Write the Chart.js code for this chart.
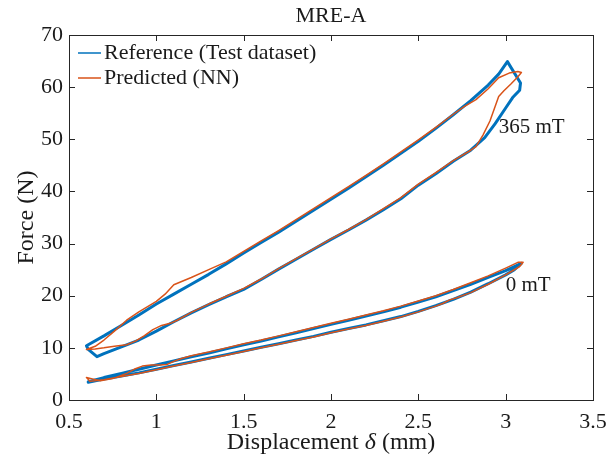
<!DOCTYPE html>
<html>
<head>
<meta charset="utf-8">
<script src="https://cdn.jsdelivr.net/npm/chart.js@4.4.1/dist/chart.umd.min.js"></script>
<style>
html,body{margin:0;padding:0;background:#fff;}
#wrap{width:608px;height:466px;}
</style>
</head>
<body>
<div id="wrap"><canvas id="mre_chart" width="608" height="466"></canvas></div>
<script>
// 365 mT loop, measured
const refHighX = [0.60,0.70,0.80,0.90,1.00,1.10,1.20,1.30,1.40,1.50,1.60,1.70,1.80,1.90,2.00,2.10,2.20,2.30,2.40,2.50,2.60,2.70,2.80,2.90,2.96,3.01,3.085,3.08,3.04,3.00,2.94,2.88,2.80,2.70,2.60,2.50,2.40,2.30,2.20,2.10,2.00,1.90,1.80,1.70,1.60,1.50,1.40,1.30,1.20,1.10,1.00,0.90,0.80,0.70,0.66,0.61,0.60];
const refHighY = [10.4,12.3,14.3,16.3,18.4,20.3,22.2,24.1,26.1,28.2,30.2,32.2,34.3,36.4,38.5,40.6,42.8,45.0,47.3,49.6,52.1,54.7,57.4,60.4,62.5,64.9,60.8,59.4,58.0,56.0,53.0,50.3,47.9,45.8,43.4,41.2,38.6,36.5,34.5,32.6,30.8,28.9,27.0,25.1,23.1,21.2,19.8,18.3,16.7,15.0,13.2,11.5,10.2,8.9,8.3,9.7,10.4];
// 365 mT loop, network output
const predHighX = [0.60,0.65,0.70,0.76,0.83,0.90,1.00,1.05,1.10,1.20,1.30,1.40,1.50,1.60,1.70,1.80,1.90,2.00,2.10,2.20,2.30,2.40,2.50,2.60,2.70,2.76,2.83,2.90,2.96,3.02,3.07,3.09,3.07,3.03,2.99,2.96,2.91,2.87,2.83,2.80,2.70,2.60,2.50,2.40,2.30,2.20,2.10,2.00,1.90,1.80,1.70,1.60,1.50,1.40,1.30,1.20,1.12,1.08,1.03,0.98,0.93,0.88,0.83,0.76,0.70,0.65,0.60];
const predHighY = [9.7,10.3,11.5,13.2,15.3,16.9,18.9,20.3,22.1,23.5,25.0,26.5,28.5,30.5,32.5,34.6,36.7,38.8,40.9,43.1,45.3,47.6,49.9,52.3,54.8,56.2,57.6,59.7,61.8,62.7,63.0,62.8,62.0,60.6,59.3,58.2,53.5,50.8,48.6,47.9,45.9,43.6,41.4,38.8,36.7,34.6,32.7,30.9,29.0,27.1,25.2,23.2,21.4,19.9,18.4,16.8,15.3,14.7,14.3,13.5,12.3,11.3,10.6,10.3,10.0,9.8,9.7];
// 0 mT loop, measured
const refLowX = [0.61,0.70,0.80,0.90,1.00,1.10,1.20,1.30,1.40,1.50,1.60,1.70,1.80,1.90,2.00,2.10,2.20,2.30,2.40,2.50,2.60,2.70,2.80,2.90,3.00,3.09,3.05,3.00,2.90,2.80,2.70,2.60,2.50,2.40,2.30,2.20,2.10,2.00,1.90,1.80,1.70,1.60,1.50,1.40,1.30,1.20,1.10,1.00,0.90,0.80,0.70,0.61];
const refLowY = [3.5,4.3,5.1,5.9,6.7,7.5,8.3,9.0,9.8,10.6,11.3,12.1,12.9,13.7,14.5,15.3,16.1,16.9,17.8,18.8,19.8,21.0,22.2,23.5,24.8,26.2,25.0,24.0,22.3,20.7,19.3,18.1,17.0,16.0,15.2,14.4,13.7,13.0,12.2,11.5,10.8,10.1,9.4,8.7,8.0,7.3,6.6,5.9,5.2,4.6,4.0,3.4];
// 0 mT loop, network output
const predLowX = [0.60,0.64,0.68,0.75,0.83,0.88,0.92,0.97,1.02,1.06,1.10,1.14,1.20,1.30,1.40,1.50,1.60,1.70,1.80,1.90,2.00,2.10,2.20,2.30,2.40,2.50,2.60,2.70,2.80,2.90,3.00,3.07,3.10,3.08,3.00,2.90,2.80,2.72,2.68,2.64,2.60,2.50,2.40,2.30,2.20,2.10,2.00,1.90,1.80,1.70,1.60,1.50,1.40,1.30,1.20,1.10,1.00,0.90,0.80,0.70,0.62,0.60];
const predLowY = [4.3,4.0,3.7,4.1,5.1,6.0,6.5,6.7,6.7,6.8,7.4,7.9,8.5,9.2,10.0,10.8,11.5,12.3,13.1,13.9,14.7,15.5,16.3,17.1,18.0,19.0,20.0,21.2,22.5,23.8,25.3,26.4,26.4,25.6,24.0,22.2,20.6,19.6,19.2,18.5,18.0,16.9,15.9,15.1,14.3,13.6,12.9,12.1,11.4,10.7,10.0,9.3,8.6,7.9,7.2,6.5,5.8,5.1,4.5,3.9,3.6,4.3];

const xTicks = [0.5,1,1.5,2,2.5,3,3.5];
const yTicks = [0,10,20,30,40,50,60,70];
const seriesNames = ['Reference (Test dataset)','Predicted (NN)'];
const loopLabels = [{text:'365 mT',x:2.96,y:52.2},{text:'0 mT',x:3.0,y:21.9}];

const BLUE = '#0072BD', ORANGE = '#D95319', INK = '#1a1a1a', SERIF = "'Liberation Serif', serif";

const toPoints = (xs,ys) => xs.map((v,i)=>({x:v,y:ys[i]}));

const lineSet = (label,xs,ys,color,width,order) => ({
    label: label,
    data: toPoints(xs,ys),
    borderColor: color,
    borderWidth: width,
    pointRadius: 0,
    tension: 0,
    borderJoinStyle: 'round',
    borderCapStyle: 'round',
    fill: false,
    order: order
});

// axes box, inward ticks, titles, legend and loop labels
const decorations = {
    id: 'decorations',
    afterDraw(chart){
        const {ctx, chartArea: a, scales: {x, y}} = chart;
        ctx.save();
        ctx.strokeStyle = '#262626';
        ctx.lineWidth = 1;
        ctx.strokeRect(a.left+0.5, a.top+0.5, a.right-a.left, a.bottom-a.top);
        ctx.beginPath();
        xTicks.forEach(v=>{
            const px = Math.round(x.getPixelForValue(v))+0.5;
            ctx.moveTo(px,a.bottom); ctx.lineTo(px,a.bottom-6);
            ctx.moveTo(px,a.top); ctx.lineTo(px,a.top+6);
        });
        yTicks.forEach(v=>{
            const py = Math.round(y.getPixelForValue(v))+0.5;
            ctx.moveTo(a.left,py); ctx.lineTo(a.left+6,py);
            ctx.moveTo(a.right,py); ctx.lineTo(a.right-6,py);
        });
        ctx.stroke();

        ctx.fillStyle = INK;
        ctx.textBaseline = 'middle';
        ctx.textAlign = 'center';
        const midX = (a.left+a.right)/2;
        ctx.font = `22px ${SERIF}`;
        ctx.fillText('MRE-A', midX, 16);

        // x axis title with italic delta
        const parts = [['Displacement ',`24px ${SERIF}`],['δ',`italic 24px ${SERIF}`],[' (mm)',`24px ${SERIF}`]];
        let total = 0;
        parts.forEach(p=>{ctx.font = p[1]; total += ctx.measureText(p[0]).width;});
        let cx = midX-total/2;
        ctx.textAlign = 'left';
        parts.forEach(p=>{ctx.font = p[1]; ctx.fillText(p[0], cx, 443); cx += ctx.measureText(p[0]).width;});

        ctx.save();
        ctx.translate(27,(a.top+a.bottom)/2);
        ctx.rotate(-Math.PI/2);
        ctx.textAlign = 'center';
        ctx.font = `24px ${SERIF}`;
        ctx.fillText('Force (N)',0,0);
        ctx.restore();

        // legend
        ctx.font = `22px ${SERIF}`;
        ctx.textAlign = 'left';
        [BLUE,ORANGE].forEach((c,i)=>{
            const ly = a.top+18+i*25;
            ctx.strokeStyle = c;
            ctx.lineWidth = 1.5;
            ctx.beginPath();
            ctx.moveTo(a.left+9,ly); ctx.lineTo(a.left+32,ly);
            ctx.stroke();
            ctx.fillText(seriesNames[i], a.left+35, ly);
        });

        ctx.font = `21px ${SERIF}`;
        loopLabels.forEach(l=>{
            ctx.fillText(l.text, x.getPixelForValue(l.x), y.getPixelForValue(l.y));
        });
        ctx.restore();
    }
};

new Chart(document.getElementById('mre_chart'), {
    type: 'line',
    data: {
        datasets: [
            lineSet(seriesNames[0], refHighX, refHighY, BLUE, 3, 2),
            lineSet(seriesNames[0], refLowX, refLowY, BLUE, 3, 2),
            lineSet(seriesNames[1], predHighX, predHighY, ORANGE, 1.5, 1),
            lineSet(seriesNames[1], predLowX, predLowY, ORANGE, 1.5, 1)
        ]
    },
    options: {
        responsive: false,
        animation: false,
        devicePixelRatio: 1,
        layout: {padding: {left: 0, right: 15, top: 35, bottom: 0}},
        plugins: {
            legend: {display: false},
            title: {display: false},
            tooltip: {enabled: false}
        },
        scales: {
            x: {
                type: 'linear',
                min: 0.5,
                max: 3.5,
                grid: {display: false, drawTicks: false},
                border: {display: false},
                afterBuildTicks: s => { s.ticks = xTicks.map(v=>({value:v})); },
                afterFit: s => { s.height = 66; s.paddingLeft = 0; s.paddingRight = 0; },
                ticks: {color: INK, font: {family: SERIF, size: 22}, padding: 9, maxRotation: 0, autoSkip: false, callback: v => `${v}`}
            },
            y: {
                type: 'linear',
                min: 0,
                max: 70,
                grid: {display: false, drawTicks: false},
                border: {display: false},
                afterBuildTicks: s => { s.ticks = yTicks.map(v=>({value:v})); },
                afterFit: s => { s.width = 69; s.paddingTop = 0; s.paddingBottom = 0; },
                ticks: {color: INK, font: {family: SERIF, size: 22}, padding: 6, autoSkip: false, callback: v => `${v}`}
            }
        }
    },
    plugins: [decorations]
});
</script>
</body>
</html>
